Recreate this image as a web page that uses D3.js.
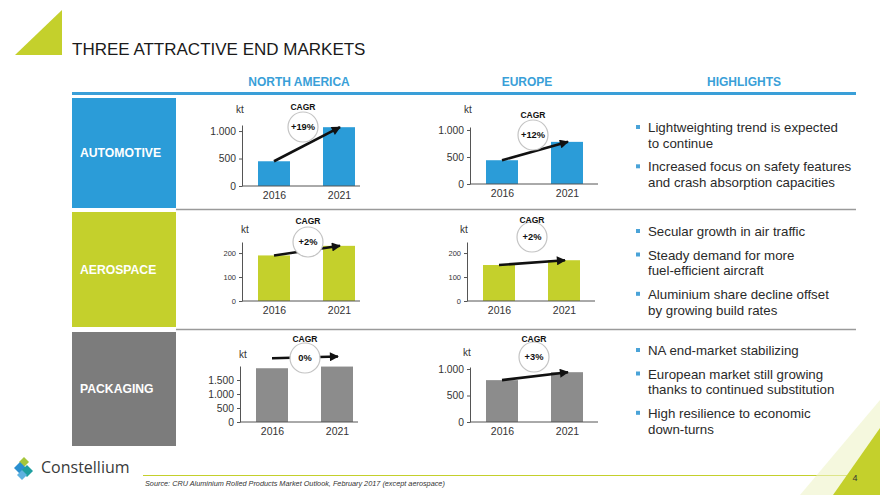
<!DOCTYPE html>
<html><head><meta charset="utf-8">
<script src="https://cdn.jsdelivr.net/npm/d3@7"></script>
<style>
html,body{margin:0;padding:0;background:#fff;}
svg{display:block;font-family:"Liberation Sans",Arial,sans-serif;}
</style></head>
<body><svg id="c" width="880" height="495"></svg>
<script>
// ---------- DATA ----------
const title = "THREE ATTRACTIVE END MARKETS";
const columns = ["NORTH AMERICA", "EUROPE", "HIGHLIGHTS"];
const markets = ["AUTOMOTIVE", "AEROSPACE", "PACKAGING"];
const years = ["2016", "2021"];
const naAutomotive = [450, 1070];
const euAutomotive = [440, 780];
const naAerospace = [190, 230];
const euAerospace = [150, 170];
const naPackaging = [1920, 1980];
const euPackaging = [790, 940];
const naCagr = ["+19%", "+2%", "0%"];
const euCagr = ["+12%", "+2%", "+3%"];
const automotiveTicks = [0, 500, 1000];
const aerospaceTicks = [0, 100, 200];
const naPackagingTicks = [0, 500, 1000, 1500];
const euPackagingTicks = [0, 500, 1000];
const automotiveHighlights = [["Lightweighting trend is expected", "to continue"], ["Increased focus on safety features", "and crash absorption capacities"]];
const aerospaceHighlights = [["Secular growth in air traffic"], ["Steady demand for more", "fuel-efficient aircraft"], ["Aluminium share decline offset", "by growing build rates"]];
const packagingHighlights = [["NA end-market stabilizing"], ["European market still growing", "thanks to continued substitution"], ["High resilience to economic", "down-turns"]];
const unit = "kt";
const sourceNote = "Source: CRU Aluminium Rolled Products Market Outlook, February 2017 (except aerospace)";
const pageNumber = "4";
const brand = "Constellium";

// ---------- STYLE / LAYOUT ----------
const BLUE = "#2b9cd8", LIME = "#c4d02c", GREY = "#7c7c7c", GREYBAR = "#8c8c8c", HEAD = "#3a9fd8";
const marketColors = [BLUE, LIME, GREY];
const barColors = [BLUE, LIME, GREYBAR];
const rowBoxes = [[98, 208], [212, 327], [332, 446]];
const fmt = d3.formatLocale({decimal: ",", thousands: ".", grouping: [3], currency: ["", ""]}).format(",");

const svg = d3.select("#c");
const defs = svg.append("defs");
defs.append("marker").attr("id", "ah").attr("viewBox", "0 0 10 10")
  .attr("refX", 9).attr("refY", 5).attr("markerWidth", 10).attr("markerHeight", 9)
  .attr("markerUnits", "userSpaceOnUse").attr("orient", "auto")
  .append("path").attr("d", "M0,0 L10,5 L0,10 z").attr("fill", "#111");

// top-left triangle + title
svg.append("path").attr("d", "M15,55 L62,10 L62,55 Z").attr("fill", LIME);
svg.append("text").attr("x", 72).attr("y", 55).attr("font-size", 17).attr("fill", "#1a1a1a").text(title);

// column headers
const headX = [299, 527, 744];
svg.selectAll(".hd").data(columns).join("text").attr("class", "hd")
  .attr("x", (d, i) => headX[i]).attr("y", 86).attr("text-anchor", "middle")
  .attr("font-size", 12).attr("font-weight", "bold").attr("fill", HEAD).text(d => d);
svg.append("line").attr("x1", 72).attr("x2", 856).attr("y1", 93.5).attr("y2", 93.5)
  .attr("stroke", HEAD).attr("stroke-width", 3);

// row boxes
markets.forEach((m, i) => {
  const [t, b] = rowBoxes[i];
  svg.append("rect").attr("x", 72).attr("y", t).attr("width", 104).attr("height", b - t).attr("fill", marketColors[i]);
  svg.append("text").attr("x", 80).attr("y", (t + b) / 2 + 4).attr("font-size", 12.2).attr("font-weight", "bold")
    .attr("fill", "#fff").text(m);
});
// separators
[209.5, 329.5].forEach(y => svg.append("line").attr("x1", 176).attr("x2", 856).attr("y1", y).attr("y2", y)
  .attr("stroke", "#9a9a9a").attr("stroke-width", 1.3));

// charts
const charts = [
  {v: naAutomotive, t: automotiveTicks, c: naCagr[0], col: barColors[0], ax: 242, xe: 118, y0: 186, yTop: 125, yMax: 1110, cx: 303, cy: 127, cagrY: 110, ktX: 240, ktY: 113, fs: 10.3, dy: 0},
  {v: euAutomotive, t: automotiveTicks, c: euCagr[0], col: barColors[0], ax: 470, xe: 128, y0: 184, yTop: 127, yMax: 1055, cx: 533, cy: 135, cagrY: 118, ktX: 468, ktY: 113, fs: 10.3, dy: 0},
  {v: naAerospace, t: aerospaceTicks, c: naCagr[1], col: barColors[1], ax: 242, xe: 118, y0: 301, yTop: 242, yMax: 246, cx: 308, cy: 242, cagrY: 224, ktX: 245, ktY: 233, fs: 7.5, dy: 0},
  {v: euAerospace, t: aerospaceTicks, c: euCagr[1], col: barColors[1], ax: 467, xe: 128, y0: 301, yTop: 242, yMax: 246, cx: 532, cy: 237, cagrY: 223, ktX: 464, ktY: 233, fs: 7.5, dy: 0},
  {v: naPackaging, t: naPackagingTicks, c: naCagr[2], col: barColors[2], ax: 240, xe: 118, y0: 422, yTop: 366, yMax: 2000, cx: 305, cy: 358, cagrY: 342, ktX: 243, ktY: 358, fs: 10.3, dy: -10},
  {v: euPackaging, t: euPackagingTicks, c: euCagr[2], col: barColors[2], ax: 470, xe: 128, y0: 422, yTop: 367, yMax: 1038, cx: 534, cy: 357, cagrY: 342, ktX: 467, ktY: 356, fs: 10.3, dy: 0}
];

charts.forEach(ch => {
  const g = svg.append("g");
  const x = d3.scalePoint().domain(years).range([ch.ax + 32, ch.ax + 97]);
  const y = d3.scaleLinear().domain([0, ch.yMax]).range([ch.y0, ch.yTop]);
  const bw = 32;
  g.selectAll("rect").data(years).join("rect")
    .attr("x", d => x(d) - bw / 2).attr("width", bw)
    .attr("y", (d, i) => y(ch.v[i])).attr("height", (d, i) => ch.y0 - y(ch.v[i]))
    .attr("fill", ch.col);
  // y axis
  const ya = g.append("g").attr("transform", `translate(${ch.ax},0)`)
    .call(d3.axisLeft(y).tickValues(ch.t).tickFormat(fmt).tickSize(3).tickSizeOuter(0).tickPadding(3));
  ya.select(".domain").attr("stroke", "#555");
  ya.selectAll(".tick line").attr("stroke", "#555");
  ya.selectAll("text").attr("font-size", ch.fs).attr("fill", "#333").attr("font-family", "Liberation Sans, Arial, sans-serif");
  // x axis
  const xa = g.append("g").attr("transform", `translate(0,${ch.y0})`)
    .call(d3.axisBottom(x).tickSize(0).tickPadding(6));
  xa.select(".domain").attr("d", `M${ch.ax},0H${ch.ax + ch.xe}`).attr("stroke", "#555");
  xa.selectAll("text").attr("font-size", 10.5).attr("fill", "#333").attr("font-family", "Liberation Sans, Arial, sans-serif");
  // unit
  g.append("text").attr("x", ch.ktX).attr("y", ch.ktY).attr("text-anchor", "middle")
    .attr("font-size", 10).attr("fill", "#333").text(unit);
  // arrow
  g.append("line").attr("x1", x(years[0])).attr("y1", y(ch.v[0]) + ch.dy)
    .attr("x2", x(years[1]) + 1).attr("y2", y(ch.v[1]) + ch.dy)
    .attr("stroke", "#111").attr("stroke-width", 2.6).attr("marker-end", "url(#ah)");
  // CAGR bubble
  g.append("circle").attr("cx", ch.cx).attr("cy", ch.cy).attr("r", 15)
    .attr("fill", "#fff").attr("stroke", "#c4c4c4").attr("stroke-width", 1.2);
  g.append("text").attr("x", ch.cx).attr("y", ch.cy + 3.3).attr("text-anchor", "middle")
    .attr("font-size", 9.3).attr("font-weight", "bold").attr("fill", "#111").text(ch.c);
  g.append("text").attr("x", ch.cx).attr("y", ch.cagrY).attr("text-anchor", "middle")
    .attr("font-size", 8.5).attr("font-weight", "bold").attr("fill", "#111").text("CAGR");
});

// highlights
const hl = [automotiveHighlights, aerospaceHighlights, packagingHighlights];
const hlStart = [132, 236, 355];
hl.forEach((items, r) => {
  let yy = hlStart[r];
  items.forEach(lines => {
    svg.append("rect").attr("x", 636).attr("y", yy - 7).attr("width", 4).attr("height", 4).attr("fill", "#4aa3d8");
    lines.forEach((ln, k) => {
      svg.append("text").attr("x", 648).attr("y", yy).attr("font-size", 13.3).attr("fill", "#2a2a2a").text(ln);
      if (k < lines.length - 1) yy += 15.8;
    });
    yy += 23.5;
  });
});

// footer
svg.append("line").attr("x1", 143).attr("x2", 850).attr("y1", 475.5).attr("y2", 475.5).attr("stroke", LIME).attr("stroke-width", 1.2);
svg.append("text").attr("x", 145).attr("y", 486).attr("font-size", 7.3).attr("font-style", "italic").attr("fill", "#333").text(sourceNote);
svg.append("path").attr("d", "M800,495 L880,400 L880,495 Z").attr("fill", "#eef3c8").attr("opacity", 0.6);
svg.append("path").attr("d", "M833,495 L880,428 L880,495 Z").attr("fill", LIME);
svg.append("text").attr("x", 855).attr("y", 481).attr("text-anchor", "middle").attr("font-size", 9).attr("fill", "#333").text(pageNumber);
// logo
const lg = svg.append("g");
lg.append("path").attr("d", "M24,457 L29,462 L24,467 L19,462 Z").attr("fill", "#a5c63b");
lg.append("path").attr("d", "M20,462 L26,468 L20,474 L14,468 Z").attr("fill", "#2a8fcf");
lg.append("path").attr("d", "M27,465 L33,471 L27,477 L21,471 Z").attr("fill", "#1f9fa0");
lg.append("path").attr("d", "M22,470 L27,475 L22,480 L17,475 Z").attr("fill", "#5fb2e0");
svg.append("text").attr("x", 41).attr("y", 473).attr("font-size", 16).attr("font-family", "Open Sans, sans-serif")
  .attr("fill", "#3a3a3a").text(brand);
</script></body></html>
